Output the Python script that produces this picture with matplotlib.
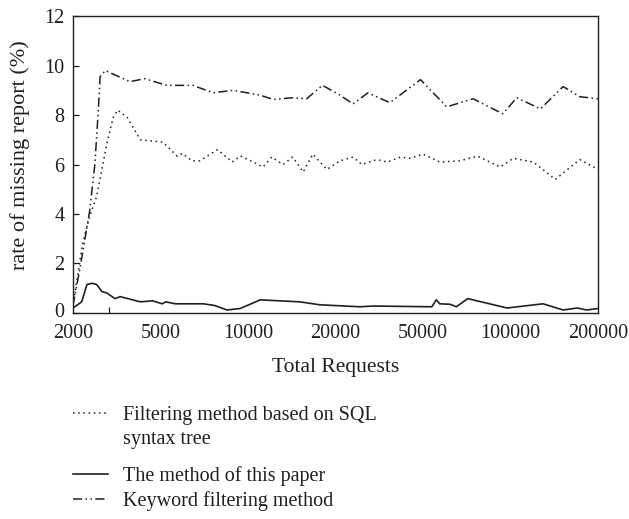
import matplotlib
matplotlib.use("Agg")
import matplotlib.pyplot as plt
from matplotlib.lines import Line2D
from matplotlib.transforms import ScaledTranslation

# tick labels (the x axis is evenly spaced by label, not by value)
req_labels = ["2000", "5000", "10000", "20000", "50000", "100000", "200000"]

# Keyword filtering method (dash-dot)
kw_pos = [0.00, 0.08, 0.19, 0.25, 0.29, 0.31, 0.37, 0.65, 0.82, 1.07, 1.37, 1.60,
          1.83, 2.14, 2.29, 2.51, 2.67, 2.85, 3.03, 3.20, 3.37, 3.62, 3.97, 4.27,
          4.57, 4.91, 5.07, 5.34, 5.60, 5.79, 6.00]
kw_rate = [0.3, 1.8, 4.1, 6.0, 8.2, 9.55, 9.8, 9.35, 9.47, 9.2, 9.2, 8.9,
           9.0, 8.8, 8.63, 8.7, 8.66, 9.2, 8.85, 8.45, 8.9, 8.5, 9.43, 8.33,
           8.66, 8.05, 8.7, 8.25, 9.15, 8.74, 8.66]

# Filtering method based on SQL syntax tree (dotted)
sql_pos = [0.00, 0.11, 0.19, 0.27, 0.39, 0.46, 0.51, 0.62, 0.77, 0.91, 1.03, 1.19,
           1.25, 1.36, 1.45, 1.65, 1.82, 1.91, 2.06, 2.17, 2.27, 2.40, 2.51, 2.63,
           2.74, 2.90, 3.05, 3.20, 3.30, 3.47, 3.59, 3.74, 3.85, 4.00, 4.19, 4.42,
           4.62, 4.88, 5.03, 5.26, 5.51, 5.65, 5.79, 6.00]
sql_rate = [0.3, 2.8, 3.9, 4.7, 6.9, 7.9, 8.2, 7.9, 7.0, 6.95, 6.9, 6.34,
            6.45, 6.15, 6.15, 6.6, 6.1, 6.35, 6.1, 5.9, 6.3, 6.0, 6.3, 5.7,
            6.42, 5.8, 6.15, 6.3, 6.0, 6.2, 6.1, 6.3, 6.25, 6.42, 6.1, 6.15,
            6.34, 5.9, 6.25, 6.1, 5.4, 5.8, 6.2, 5.8]

# The method of this paper (solid)
ours_pos = [0.00, 0.10, 0.16, 0.22, 0.27, 0.33, 0.39, 0.48, 0.54, 0.77, 0.91, 1.02,
            1.06, 1.17, 1.49, 1.62, 1.76, 1.91, 2.14, 2.59, 2.82, 3.28, 3.43, 4.10,
            4.15, 4.19, 4.31, 4.38, 4.51, 4.96, 5.37, 5.60, 5.76, 5.87, 6.00]
ours_rate = [0.2, 0.45, 1.15, 1.2, 1.15, 0.87, 0.8, 0.58, 0.66, 0.45, 0.49, 0.37,
             0.45, 0.37, 0.37, 0.3, 0.12, 0.18, 0.53, 0.45, 0.33, 0.25, 0.28, 0.25,
             0.53, 0.37, 0.35, 0.25, 0.58, 0.2, 0.37, 0.12, 0.2, 0.12, 0.18]

plt.rcParams["font.family"] = ["Liberation Serif", "DejaVu Serif"]
FS = 14.5
INK = "#231f20"

fig = plt.figure(figsize=(6.29, 5.19), dpi=100)
ax = fig.add_axes([0.116, 0.397, 0.835, 0.572])

dotted, = ax.plot(sql_pos, sql_rate, color=INK, lw=1.1, ls=(0, (1, 2.4)))
solid, = ax.plot(ours_pos, ours_rate, color=INK, lw=1.2, ls="-")
dashdot, = ax.plot(kw_pos, kw_rate, color=INK, lw=1.1, ls=(0, (6, 2.2, 1, 2.2, 1, 2.2)))

ax.set_xlim(0, len(req_labels) - 1)
ax.set_ylim(0, 12)
ax.set_xticks(range(len(req_labels)))
ax.set_xticklabels(req_labels)
ax.set_xticks([0.41, 1, 2, 3, 4, 5], minor=True)
ax.set_yticks(range(0, 13, 2))
ax.tick_params(axis="x", which="major", length=0, pad=8, labelsize=FS, colors=INK)
ax.tick_params(axis="x", which="minor", direction="in", length=4, width=0.9, color=INK)
ax.tick_params(axis="y", direction="in", length=4, width=0.9, pad=6, labelsize=FS,
               colors=INK)
for s in ax.spines.values():
    s.set_linewidth(1.0)
    s.set_color(INK)

# lift the "0" a touch so it clears the "2000" below it
zero = ax.get_yticklabels()[0]
zero.set_transform(zero.get_transform() + ScaledTranslation(0, 2 / 72, fig.dpi_scale_trans))

ax.set_xlabel("Total Requests", fontsize=15.5, color=INK, labelpad=11)
ax.set_ylabel("rate of missing report (%)", fontsize=16, color=INK)
ax.yaxis.set_label_coords(-0.082, 0.53)

blank = Line2D([], [], color="none")
leg_kw = dict(loc="upper left", frameon=False, fontsize=FS, handlelength=1.75,
              handletextpad=0.75, labelspacing=0.25, borderpad=0, borderaxespad=0,
              labelcolor=INK)
fig.legend([dotted, blank], ["Filtering method based on SQL", "syntax tree"],
           bbox_to_anchor=(0.116, 1 - 406 / 519), **leg_kw)
fig.legend([solid, dashdot], ["The method of this paper", "Keyword filtering method"],
           bbox_to_anchor=(0.116, 1 - 466 / 519), **leg_kw)

fig.savefig("out.png", dpi=100)
